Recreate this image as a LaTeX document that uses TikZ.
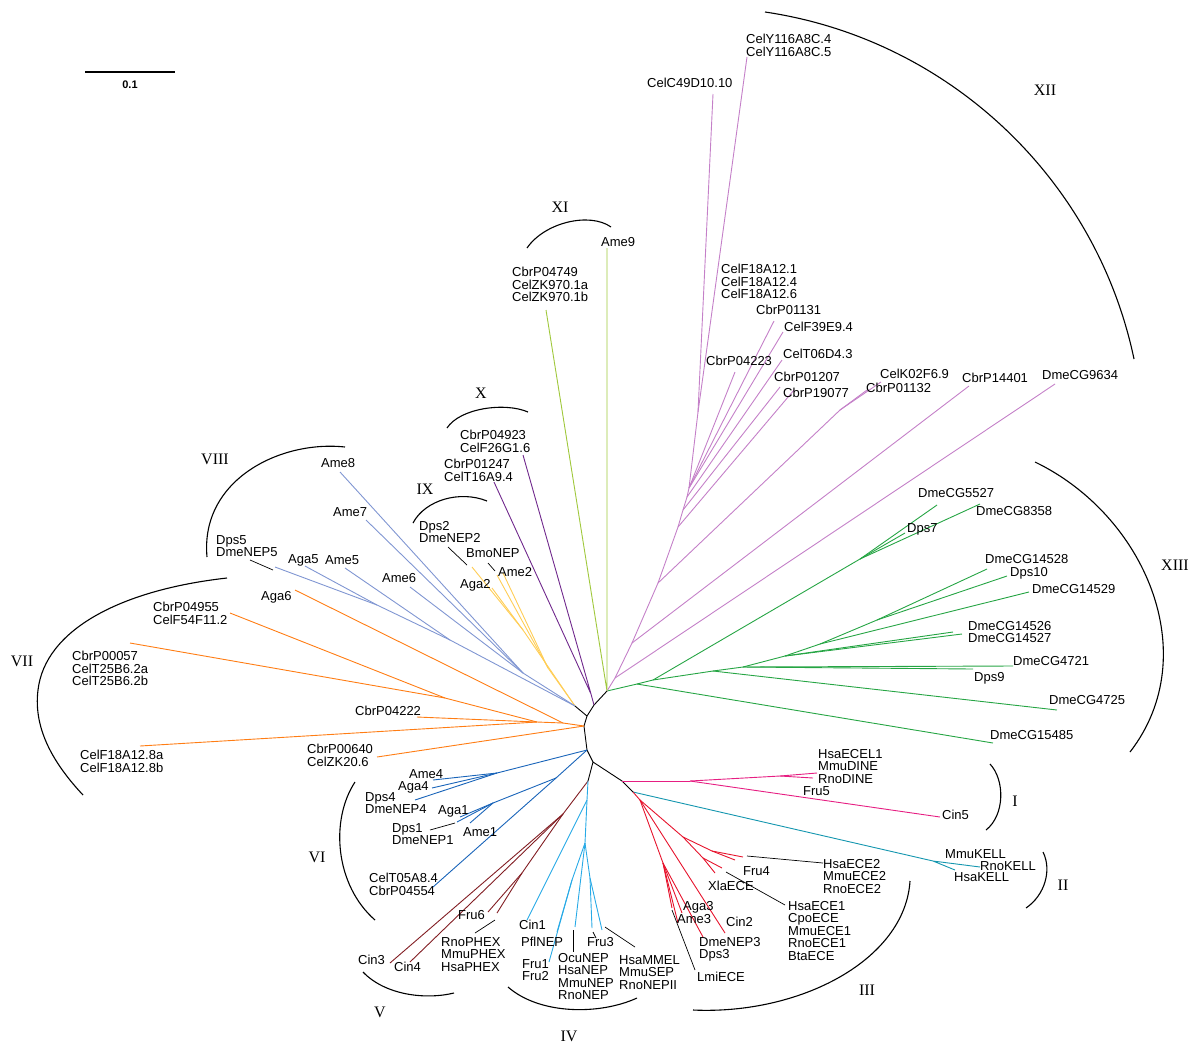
\documentclass[tikz,border=0pt]{standalone}
\usepackage{fontspec}
\setmainfont{Liberation Sans}
\newfontfamily\romfont{Liberation Serif}
\definecolor{cI}{RGB}{230,30,130}
\definecolor{cII}{RGB}{20,150,175}
\definecolor{cIII}{RGB}{230,20,45}
\definecolor{cIV}{RGB}{40,170,230}
\definecolor{cV}{RGB}{130,30,35}
\definecolor{cVI}{RGB}{25,100,185}
\definecolor{cVII}{RGB}{255,125,20}
\definecolor{cVIII}{RGB}{128,150,210}
\definecolor{cIX}{RGB}{255,205,85}
\definecolor{cX}{RGB}{112,40,140}
\definecolor{cXI}{RGB}{160,200,60}
\definecolor{cXII}{RGB}{196,128,200}
\definecolor{cXIII}{RGB}{38,165,68}
\tikzset{
  branch/.style={line width=0.9pt},
  leader/.style={line width=0.7pt, black},
  clade/.style={line width=1.1pt, black},
  lab/.style={anchor=north west, inner sep=0pt, align=left, font=\fontsize{13}{12.5}\selectfont},
  roman/.style={inner sep=0pt, font=\romfont\fontsize{16}{16}\selectfont},
}

\begin{document}
\begin{tikzpicture}[x=1pt, y=-1pt]
		\useasboundingbox (0,0) rectangle (1193,1045);

		% scale
		\coordinate (s0) at (85,72);
		\coordinate (s1) at (175,72);
		\draw[line width=1.2pt] (s0) -- (s1);
		\node[inner sep=0pt, font=\bfseries\fontsize{11}{11}\selectfont] (scale) at (130,85) {0.1};

		% backbone
		\foreach \n/\x/\y in {r1/607/691, r2/594/705, r3/587/716, r4/575/706, r5/584/726,
			r6/587/750, r7/593/762, r8/588/781, r9/622/781, r10/633/792}
			\coordinate (\n) at (\x,\y);
		\draw[branch] (r1) -- (r2) -- (r3) -- (r4) (r3) -- (r5) -- (r6) -- (r7) -- (r8)
			(r7) -- (r9) -- (r10);

		% XIII
		\foreach \n/\x/\y in {g1/637/684, g2/653/680, g3/860/559, g4/713/671, g5/743/667,
			g6/785/656, g7/820/644, g8/877/620, t5527/937/505, t8358/980/504, tDps7/905/533,
			t14528/987/569, tDps10/1007/576, t14529/1029/592, t14526/953/632, t14527/962/634,
			t4721/1013/666, tDps9/973/669, t4725/1057/710, t15485/993/743}
			\coordinate (\n) at (\x,\y);
		\foreach \a/\b in {r1/g1, g1/t15485, g1/g2, g2/g3, g3/t5527, g3/t8358, g3/tDps7,
			g2/g4, g4/t4725, g4/g5, g5/t4721, g5/tDps9, g5/g6, g6/t14526, g6/t14527, g6/g7,
			g7/t14529, g7/g8, g8/t14528, g8/tDps10}
			\draw[branch, cXIII] (\a) -- (\b);

		% XII
		\foreach \n/\x/\y in {p1/615/678, p2/632/643, p3/658/583, p3a/840/410, p4/678/527,
			p5/683/510, p6/687/497, p7/689/488, p8/698/412, p9/709/333, t9634/1055/384,
			t14401/969/386, tK02/881/382, t01132/867/390, t19077/794/390, t01207/780/387,
			tT06/782/360, tF39/783/332, t01131/774/321, t04223/735/372, tC49/713/94, tY116/747/57}
			\coordinate (\n) at (\x,\y);
		\foreach \a/\b in {r1/p1, p1/t9634, p1/p2, p2/t14401, p2/p3, p3/p3a, p3a/tK02,
			p3a/t01132, p3/p4, p4/t19077, p4/p5, p5/t01207, p5/p6, p6/tT06, p6/p7, p7/tF39,
			p7/t01131, p7/t04223, p7/p8, p8/tC49, p8/p9, p9/tY116}
			\draw[branch, cXII] (\a) -- (\b);

		% XI and X
		\coordinate (tAme9) at (607,248);
		\coordinate (t04749) at (546,310);
		\draw[branch, cXI] (tAme9) -- (r1) -- (t04749);
		\coordinate (x1) at (591,694);
		\coordinate (tF26) at (523,455);
		\coordinate (tT16) at (494,482);
		\draw[branch, cX] (r2) -- (x1) -- (tF26) (x1) -- (tT16);

		% IX
		\foreach \n/\x/\y in {y1/523/630, y2/548/668, tNEP2/472/567, tAga2/492/588,
			tBmo/497/575, tAme2/503/573}
			\coordinate (\n) at (\x,\y);
		\foreach \a/\b in {r4/y1, y1/tNEP2, y1/tAga2, r4/y2, y2/tBmo, y2/tAme2}
			\draw[branch, cIX] (\a) -- (\b);

		% VIII
		\foreach \n/\x/\y in {b1/523/673, b2/450/640, b3/377/605, tAme8/340/472, tAme7/366/520,
			tAme6/410/587, tAme5/345/568, tAga5/305/566, tNEP5/275/567}
			\coordinate (\n) at (\x,\y);
		\foreach \a/\b in {r4/b1, b1/tAme8, b1/tAme7, b1/tAme6, r4/b2, b2/tAme5, b2/b3,
			b3/tAga5, b3/tNEP5}
			\draw[branch, cVIII] (\a) -- (\b);

		% VII
		\foreach \n/\x/\y in {o1/563/723, o2/537/722, o3/445/698, tAga6/295/590, t04955/230/613,
			t00057/130/643, t04222/417/717, tF18/140/746, t00640/377/757}
			\coordinate (\n) at (\x,\y);
		\foreach \a/\b in {r5/o1, o1/tAga6, o1/o2, o2/t04222, o2/tF18, o2/o3, o3/t04955,
			o3/t00057, r5/t00640}
			\draw[branch, cVII] (\a) -- (\b);

		% VI
		\foreach \n/\x/\y in {v1/497/773, v2/556/778, v3/493/803, tAme4/433/780, tAga4/432/788,
			tNEP4/415/800, tAga1/460/817, tNEP1/457/822, tAme1/470/823, tT05/433/887}
			\coordinate (\n) at (\x,\y);
		\foreach \a/\b in {r6/v1, v1/tAme4, v1/tAga4, v1/tNEP4, r6/v2, v2/v3, v3/tAga1,
			v3/tNEP1, v3/tAme1, v2/tT05}
			\draw[branch, cVI] (\a) -- (\b);

		% V
		\foreach \n/\x/\y in {n1/563/814, n2/522/873, tCin3/390/963, tCin4/410/962,
			tFru6/488/912, tPHEX/497/913}
			\coordinate (\n) at (\x,\y);
		\foreach \a/\b in {r8/n1, n1/tCin3, n1/tCin4, n1/n2, n2/tFru6, n2/tPHEX}
			\draw[branch, cV] (\a) -- (\b);

		% IV
		\foreach \n/\x/\y in {c1/587/800, c2/585/843, c3/572/880, c4/590/878, tCin1/527/920,
			tPfl/557/932, tFru12/549/962, tNEP/575/927, tFru3/592/928, tMMEL/602/930}
			\coordinate (\n) at (\x,\y);
		\foreach \a/\b in {r8/c1, c1/tCin1, c1/c2, c2/c3, c3/tPfl, c3/tFru12, c2/tNEP,
			c2/c4, c4/tFru3, c4/tMMEL}
			\draw[branch, cIV] (\a) -- (\b);

		% I and II
		\foreach \n/\x/\y in {i1/690/781, i2/780/776, tECEL/817/773, tFru5/813/778,
			tCin5/940/817, k1/933/861, tRnoK/980/867, tHsaK/955/870}
			\coordinate (\n) at (\x,\y);
		\foreach \a/\b in {r9/i1, i1/tCin5, i1/i2, i2/tECEL, i2/tFru5}
			\draw[branch, cI] (\a) -- (\b);
		\draw[branch, cII] (r10) -- (k1) -- (tRnoK) (k1) -- (tHsaK);

		% III
		\foreach \n/\x/\y in {d1/640/800, d2/683/837, d3/712/851, d4/703/858, d5/663/863,
			tECE2/743/857, tFru4/735/860, tXla/715/873, tECE1/722/868, tCin2/725/933,
			tNEP3/703/937, tAme3/678/923, tAga3/682/913, tLmi/672/908}
			\coordinate (\n) at (\x,\y);
		\foreach \a/\b in {r10/d1, d1/tCin2, d1/d2, d2/d3, d3/tECE2, d3/tFru4, d2/d4,
			d4/tXla, d4/tECE1, d1/d5, d5/tNEP3, d5/tAme3, d5/tAga3, d5/tLmi}
			\draw[branch, cIII] (\a) -- (\b);

		% leaders
		\foreach \n/\ax/\ay/\bx/\by in {NEP2/448/547/467/565, Bmo/488/563/495/571,
			NEP5/250/560/273/570, NEP1/430/830/455/823, PHEX/475/933/495/920,
			NEP/573/930/573/952, Fru3/593/932/596/938, MMEL/605/927/635/947,
			ECE2/747/856/823/863, ECE1/726/872/785/905, Lmi/672/910/695/970}
			{\coordinate (a\n) at (\ax,\ay);
			 \coordinate (b\n) at (\bx,\by);
			 \draw[leader] (a\n) -- (b\n);}

		% labels
		\node[lab] (l5527) at (918,488) {DmeCG5527};
		\node[lab] (l8358) at (976,506) {DmeCG8358};
		\node[lab] (lDps7) at (907,523) {Dps7};
		\node[lab] (l14528) at (985,554) {DmeCG14528};
		\node[lab] (lDps10) at (1010,567) {Dps10};
		\node[lab] (l14529) at (1032,584) {DmeCG14529};
		\node[lab] (l14526) at (968,621) {DmeCG14526\\DmeCG14527};
		\node[lab] (l4721) at (1013,656) {DmeCG4721};
		\node[lab] (lDps9) at (974,672) {Dps9};
		\node[lab] (l4725) at (1049,695) {DmeCG4725};
		\node[lab] (l15485) at (990,730) {DmeCG15485};

		\node[lab] (lY116) at (746,34) {CelY116A8C.4\\CelY116A8C.5};
		\node[lab] (lC49) at (647,78) {CelC49D10.10};
		\node[lab] (lF18A) at (721,264) {CelF18A12.1\\CelF18A12.4\\CelF18A12.6};
		\node[lab] (l01131) at (756,305) {CbrP01131};
		\node[lab] (lF39) at (784,322) {CelF39E9.4};
		\node[lab] (lT06) at (783,349) {CelT06D4.3};
		\node[lab] (l04223) at (706,356) {CbrP04223};
		\node[lab] (l01207) at (774,372) {CbrP01207};
		\node[lab] (l19077) at (783,388) {CbrP19077};
		\node[lab] (lK02) at (880,369) {CelK02F6.9};
		\node[lab] (l01132) at (866,383) {CbrP01132};
		\node[lab] (l14401) at (962,373) {CbrP14401};
		\node[lab] (l9634) at (1042,370) {DmeCG9634};

		\node[lab] (lAme9) at (601,237) {Ame9};
		\node[lab] (l04749) at (512,267) {CbrP04749\\CelZK970.1a\\CelZK970.1b};
		\node[lab] (l04923) at (460,430) {CbrP04923\\CelF26G1.6};
		\node[lab] (l01247) at (444,459) {CbrP01247\\CelT16A9.4};

		\node[lab] (lDps2) at (419,521) {Dps2\\DmeNEP2};
		\node[lab] (lBmo) at (466,548) {BmoNEP};
		\node[lab] (lAme2) at (498,567) {Ame2};
		\node[lab] (lAga2) at (460,579) {Aga2};

		\node[lab] (lAme8) at (321,458) {Ame8};
		\node[lab] (lAme7) at (333,507) {Ame7};
		\node[lab] (lDps5) at (216,535) {Dps5\\DmeNEP5};
		\node[lab] (lAga5) at (288,554) {Aga5};
		\node[lab] (lAme5) at (325,555) {Ame5};
		\node[lab] (lAme6) at (382,573) {Ame6};

		\node[lab] (lAga6) at (261,591) {Aga6};
		\node[lab] (l04955) at (153,602) {CbrP04955\\CelF54F11.2};
		\node[lab] (l00057) at (72,651) {CbrP00057\\CelT25B6.2a\\CelT25B6.2b};
		\node[lab] (l04222) at (355,706) {CbrP04222};
		\node[lab] (lF18) at (80,750) {CelF18A12.8a\\CelF18A12.8b};
		\node[lab] (l00640) at (307,744) {CbrP00640\\CelZK20.6};

		\node[lab] (lAme4) at (409,769) {Ame4};
		\node[lab] (lAga4) at (398,781) {Aga4};
		\node[lab] (lDps4) at (365,792) {Dps4\\DmeNEP4};
		\node[lab] (lAga1) at (438,805) {Aga1};
		\node[lab] (lDps1) at (392,823) {Dps1\\DmeNEP1};
		\node[lab] (lAme1) at (463,827) {Ame1};
		\node[lab] (lT05) at (369,873) {CelT05A8.4\\CbrP04554};

		\node[lab] (lFru6) at (458,910) {Fru6};
		\node[lab] (lCin3) at (358,955) {Cin3};
		\node[lab] (lCin4) at (394,962) {Cin4};
		\node[lab] (lPHEX) at (441,937) {RnoPHEX\\MmuPHEX\\HsaPHEX};

		\node[lab] (lCin1) at (519,920) {Cin1};
		\node[lab] (lPfl) at (521,937) {PflNEP};
		\node[lab] (lFru1) at (522,959) {Fru1\\Fru2};
		\node[lab] (lNEP) at (558,953) {OcuNEP\\HsaNEP\\MmuNEP\\RnoNEP};
		\node[lab] (lFru3) at (587,937) {Fru3};
		\node[lab] (lMMEL) at (619,955) {HsaMMEL\\MmuSEP\\RnoNEPII};

		\node[lab] (lECE2) at (823,859) {HsaECE2\\MmuECE2\\RnoECE2};
		\node[lab] (lFru4) at (743,866) {Fru4};
		\node[lab] (lXla) at (708,881) {XlaECE};
		\node[lab] (lECE1) at (788,901) {HsaECE1\\CpoECE\\MmuECE1\\RnoECE1\\BtaECE};
		\node[lab] (lCin2) at (726,917) {Cin2};
		\node[lab] (lAga3) at (683,901) {Aga3};
		\node[lab] (lAme3) at (677,914) {Ame3};
		\node[lab] (lNEP3) at (699,937) {DmeNEP3\\Dps3};
		\node[lab] (lLmi) at (697,972) {LmiECE};

		\node[lab] (lECEL) at (818,749) {HsaECEL1\\MmuDINE\\RnoDINE};
		\node[lab] (lFru5) at (803,786) {Fru5};
		\node[lab] (lCin5) at (942,810) {Cin5};
		\node[lab] (lMmuK) at (945,849) {MmuKELL};
		\node[lab] (lRnoK) at (980,861) {RnoKELL};
		\node[lab] (lHsaK) at (954,872) {HsaKELL};

		% clade arcs
		\draw[clade] (765,12) .. controls (948,39) and (1096,178) .. (1134,359);
		\draw[clade] (1035,462) .. controls (1145,515) and (1205,655) .. (1130,752);
		\draw[clade] (990,764) .. controls (1005,780) and (1005,815) .. (986,830);
		\draw[clade] (1043,852) .. controls (1052,870) and (1045,895) .. (1026,908);
		\draw[clade] (910,881) .. controls (905,960) and (800,1015) .. (693,1010);
		\draw[clade] (508,987) .. controls (540,1015) and (600,1015) .. (637,998);
		\draw[clade] (363,972) .. controls (385,995) and (425,1000) .. (454,993);
		\draw[clade] (355,782) .. controls (330,820) and (335,885) .. (375,920);
		\draw[clade] (227,578) .. controls (120,590) and (45,630) .. (38,690)
			.. controls (33,730) and (55,765) .. (83,795);
		\draw[clade] (345,447) .. controls (280,440) and (200,480) .. (207,557);
		\draw[clade] (413,523) .. controls (425,500) and (460,490) .. (487,501);
		\draw[clade] (447,428) .. controls (460,408) and (505,402) .. (528,412);
		\draw[clade] (527,248) .. controls (545,222) and (590,212) .. (611,227);

		% clade names
		\node[roman] (nXII) at (1045,90) {XII};
		\node[roman] (nXIII) at (1175,565) {XIII};
		\node[roman] (nI) at (1015,801) {I};
		\node[roman] (nII) at (1063,885) {II};
		\node[roman] (nIII) at (867,990) {III};
		\node[roman] (nIV) at (569,1036) {IV};
		\node[roman] (nV) at (380,1012) {V};
		\node[roman] (nVI) at (317,857) {VI};
		\node[roman] (nVII) at (22,661) {VII};
		\node[roman] (nVIII) at (215,459) {VIII};
		\node[roman] (nIX) at (425,489) {IX};
		\node[roman] (nX) at (481,393) {X};
		\node[roman] (nXI) at (560,207) {XI};

	\end{tikzpicture}
\end{document}
